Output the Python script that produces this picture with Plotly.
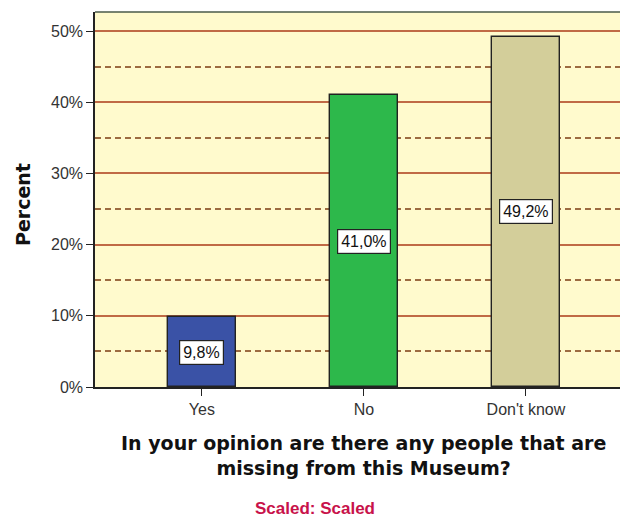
import plotly.graph_objects as go

categories = ["Yes", "No", "Don't know"]
percents = [9.8, 41.0, 49.2]
bar_colors = ["#3A52A6", "#2DB84B", "#D3CE9A"]
y_tickvals = [0, 10, 20, 30, 40, 50]
y_ticktext = ["0%", "10%", "20%", "30%", "40%", "50%"]
x_title = "In your opinion are there any people that are<br>missing from this Museum?"
y_title = "Percent"
subtitle = "Scaled: Scaled"

labels = [f"{v:.1f}%".replace(".", ",") for v in percents]

# page body has an 8px default margin; plot area targets page px x 95-628, y 12-387
PX0, PX1, PY0, PY1 = 95, 628, 12, 387


def px(x):
    return (x - PX0) / (PX1 - PX0)


def py(y):
    return (PY1 - y) / (PY1 - PY0)


fig = go.Figure()
fig.add_trace(go.Bar(
    x=categories, y=percents, width=0.425,
    marker=dict(color=bar_colors, line=dict(color="#222222", width=1.4)),
    hoverinfo="skip",
))

for c, v, t in zip(categories, percents, labels):
    fig.add_annotation(x=c, y=v / 2, text=t, showarrow=False,
                       font=dict(family="Liberation Sans, Arial", size=16, color="#111111"),
                       bgcolor="white", bordercolor="#222222", borderwidth=1.2, borderpad=3)

fig.add_annotation(xref="paper", yref="paper", x=px(363), y=py(455),
                   text="<b>" + x_title + "</b>", showarrow=False,
                   font=dict(family="DejaVu Sans", size=19, color="#111111"),
                   xanchor="center", yanchor="middle")
fig.add_annotation(xref="paper", yref="paper", x=px(315), y=py(509),
                   text="<b>" + subtitle + "</b>", showarrow=False,
                   font=dict(family="Liberation Sans, Arial", size=17, color="#C8124A"),
                   xanchor="center", yanchor="middle")
fig.add_annotation(xref="paper", yref="paper", x=px(23), y=py(205),
                   text="<b>" + y_title + "</b>", showarrow=False, textangle=-90,
                   font=dict(family="DejaVu Sans", size=19, color="#111111"),
                   xanchor="center", yanchor="middle")

fig.add_shape(type="line", xref="paper", yref="paper", x0=0, x1=1, y0=1, y1=1,
              line=dict(color="#4A5A4A", width=1.5))

fig.update_layout(
    width=620, height=512,
    margin=dict(l=PX0 - 8, r=0, t=PY0 - 8, b=520 - PY1),
    paper_bgcolor="white", plot_bgcolor="#FFFACD",
    showlegend=False, bargap=0,
)
fig.update_xaxes(
    range=[-0.66, 2.63], showgrid=False, showline=True, linecolor="#222222", linewidth=1.5,
    ticks="outside", ticklen=7, tickcolor="#222222",
    tickfont=dict(family="Liberation Sans, Arial", size=16, color="#333333"),
    fixedrange=True,
)
fig.update_yaxes(
    range=[0, 52.67], tickvals=y_tickvals, ticktext=y_ticktext,
    showgrid=True, gridcolor="#C06A45", gridwidth=1.8,
    minor=dict(tickvals=[5, 15, 25, 35, 45], showgrid=True, gridcolor="#9C6A40",
               gridwidth=1.6, griddash="6px,4px", ticks=""),
    showline=True, linecolor="#222222", linewidth=1.5,
    ticks="outside", ticklen=7, tickcolor="#222222",
    tickfont=dict(family="Liberation Sans, Arial", size=16, color="#333333"),
    zeroline=False, fixedrange=True,
)

fig.write_html("out.html")
